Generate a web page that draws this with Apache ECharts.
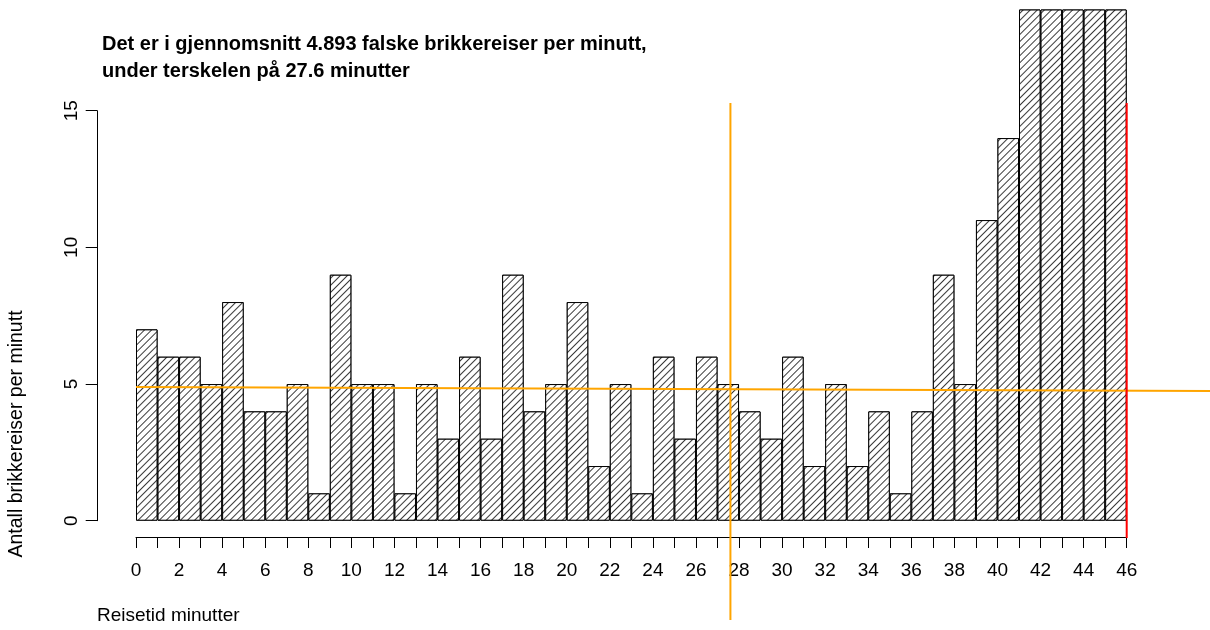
<!DOCTYPE html>
<html>
<head>
<meta charset="utf-8">
<script src="https://cdn.jsdelivr.net/npm/echarts@6/dist/echarts.min.js"></script>
<style>
  html, body { margin: 0; padding: 0; background: #fff; }
  #chart { width: 1210px; height: 630px; }
</style>
</head>
<body>
<div id="chart"></div>
<script>
// minutes 0..45, one bar per minute
const minutes = Array.from({ length: 46 }, (_, i) => String(i))
// counts; the last five bars run off the top, values are guesses
const counts = [7, 6, 6, 5, 8, 4, 4, 5, 1, 9, 5, 5, 1, 5, 3, 6, 3, 9, 4, 5, 8, 2, 5, 1,
  6, 3, 6, 5, 4, 3, 6, 2, 5, 2, 4, 1, 4, 9, 5, 11, 14, 22, 28, 35, 44, 56]

// reference lines
const meanLine = [[0, 4.893], [49.86, 4.745]]
const thresholdLine = [[27.6, 15.28], [27.6, -3.63]]
const cutoffLine = [[46, 15.28], [46, -0.63]]

const chart = echarts.init(document.getElementById('chart'))

const font = 'Liberation Sans, Arial, sans-serif'

const hatch = {
  symbol: 'rect',
  symbolSize: 1,
  dashArrayX: [1, 0],
  dashArrayY: [1, 4],
  rotation: -Math.PI / 4,
  color: '#3a3a3a',
  backgroundColor: '#ffffff'
}

const option = {
  animation: false,
  backgroundColor: '#ffffff',
  textStyle: { fontFamily: font, color: '#000' },
  title: {
    text: 'Det er i gjennomsnitt 4.893 falske brikkereiser per minutt,\nunder terskelen på 27.6 minutter',
    left: 97,
    top: 26,
    textStyle: { fontSize: 20, fontWeight: 'bold', color: '#000', lineHeight: 27, fontFamily: font }
  },
  graphic: [
    {
      type: 'text',
      left: 97,
      top: 606,
      style: { text: 'Reisetid minutter', fontSize: 19, fill: '#000', fontFamily: font }
    },
    {
      type: 'text',
      x: 7,
      y: 434,
      rotation: Math.PI / 2,
      style: {
        text: 'Antall brikkereiser per minutt', fontSize: 19.5, fill: '#000',
        fontFamily: font, align: 'center', verticalAlign: 'top'
      }
    }
  ],
  grid: [
    // plot area for bars, clipped at the top of the picture
    { left: 136, top: 10, width: 990.7, height: 510.7, outerBoundsMode: 'none' },
    // y axis 0..15 and the mean line, which runs on to the right edge
    { left: 136, top: 110.7, width: 1074, height: 410, outerBoundsMode: 'none' }
  ],
  xAxis: [
    { type: 'category', gridIndex: 0, position: 'bottom', data: minutes, show: false, boundaryGap: true },
    {
      type: 'value', gridIndex: 0, position: 'bottom', min: 0, max: 46, interval: 1, offset: 16.3,
      axisLine: { show: true, onZero: false, lineStyle: { color: '#000', width: 1 } },
      axisTick: { show: true, length: 11, lineStyle: { color: '#000' } },
      axisLabel: {
        fontSize: 19, color: '#000', margin: 24,
        formatter: v => (v % 2 === 0 ? String(v) : '')
      },
      splitLine: { show: false }
    },
    { type: 'value', gridIndex: 1, position: 'bottom', show: false, min: 0, max: 49.86 }
  ],
  yAxis: [
    { type: 'value', gridIndex: 0, min: 0, max: 18.686, show: false },
    {
      type: 'value', gridIndex: 1, position: 'left', min: 0, max: 15, interval: 5, offset: 39,
      axisLine: { show: true, onZero: false, lineStyle: { color: '#000', width: 1 } },
      axisTick: { show: true, length: 11.3, lineStyle: { color: '#000' } },
      axisLabel: { fontSize: 19, color: '#000', rotate: 90, margin: 16 },
      splitLine: { show: false }
    }
  ],
  series: [
    {
      type: 'bar',
      xAxisIndex: 0,
      yAxisIndex: 0,
      barWidth: '100%',
      itemStyle: { color: '#ffffff', borderColor: '#000', borderWidth: 1, decal: hatch },
      data: counts
    },
    {
      type: 'line', xAxisIndex: 2, yAxisIndex: 1, symbol: 'none',
      lineStyle: { color: '#FFA500', width: 2 }, data: meanLine, z: 5
    },
    {
      type: 'line', xAxisIndex: 1, yAxisIndex: 0, clip: false, symbol: 'none',
      lineStyle: { color: '#FFA500', width: 2 }, data: thresholdLine, z: 5
    },
    {
      type: 'line', xAxisIndex: 1, yAxisIndex: 0, clip: false, symbol: 'none',
      lineStyle: { color: '#FF0000', width: 2 }, data: cutoffLine, z: 6
    }
  ]
}

chart.setOption(option)
</script>
</body>
</html>
